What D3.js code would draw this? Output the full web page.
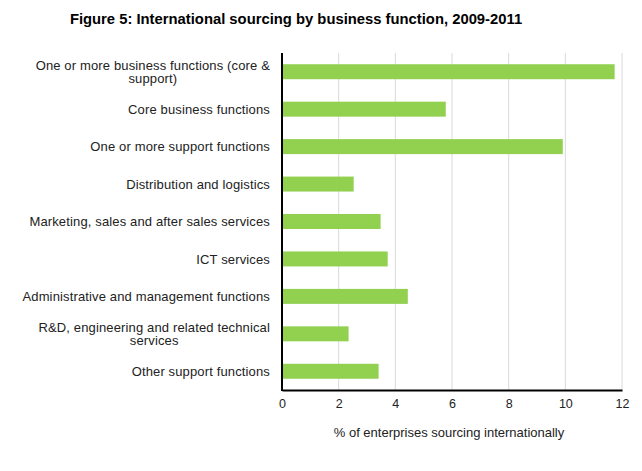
<!DOCTYPE html>
<html>
<head>
    <meta charset="utf-8">
    <title>Figure 5</title>
    <script src="https://d3js.org/d3.v7.min.js"></script>
    <style>
        body { margin: 0; background: #fff; }
        text { font-family: "Liberation Sans", Arial, sans-serif; }
    </style>
</head>
<body>
<svg width="642" height="471"></svg>
<script>
    // data
    var categories = [
        ["One or more business functions (core &", "support)"],
        ["Core business functions"],
        ["One or more support functions"],
        ["Distribution and logistics"],
        ["Marketing, sales and after sales services"],
        ["ICT services"],
        ["Administrative and management functions"],
        ["R&D, engineering and related technical", "services"],
        ["Other support functions"]
    ];
    var values = [11.74, 5.78, 9.91, 2.53, 3.48, 3.73, 4.44, 2.35, 3.41];
    var xTicks = [0, 2, 4, 6, 8, 10, 12];

    var svg = d3.select("svg");
    var marge = {top: 53, left: 282, right: 20, bottom: 81};
    var width = 642, height = 471;
    var plotW = width - marge.left - marge.right;   // 340
    var plotH = height - marge.top - marge.bottom;  // 337

    svg.append("text")
        .attr("x", 296)
        .attr("y", 24)
        .attr("text-anchor", "middle")
        .attr("font-size", "14.8px")
        .attr("font-weight", "bold")
        .attr("fill", "#000")
        .text("Figure 5: International sourcing by business function, 2009-2011");

    var g = svg.append("g")
        .attr("transform", "translate(" + marge.left + "," + marge.top + ")");

    var xScale = d3.scaleLinear().domain([0, 12]).range([0, plotW]);
    var yScale = d3.scaleBand()
        .domain(d3.range(values.length))
        .range([0, plotH])
        .paddingInner(0.6)
        .paddingOuter(0.3);

    // grid lines
    g.selectAll(".grid")
        .data(xTicks.slice(1))
        .enter()
        .append("line")
        .attr("x1", function (d) { return xScale(d); })
        .attr("x2", function (d) { return xScale(d); })
        .attr("y1", 0)
        .attr("y2", plotH)
        .attr("stroke", "#d9d9d9")
        .attr("stroke-width", 1);

    // bars
    g.selectAll(".bar")
        .data(values)
        .enter()
        .append("rect")
        .attr("x", xScale(0))
        .attr("y", function (d, i) { return yScale(i); })
        .attr("width", function (d) { return xScale(d) - xScale(0); })
        .attr("height", yScale.bandwidth())
        .attr("fill", "#92d050");

    // x axis
    var xAxis = d3.axisBottom(xScale).tickValues(xTicks).tickSize(0).tickPadding(9);
    var ax = g.append("g")
        .attr("transform", "translate(0," + plotH + ")")
        .call(xAxis);
    ax.select(".domain").attr("stroke", "#000").attr("stroke-width", 2);
    ax.selectAll("text")
        .attr("font-size", "12.5px")
        .attr("font-family", "Liberation Sans, Arial, sans-serif")
        .attr("fill", "#222");

    // y axis line
    g.append("line")
        .attr("x1", 0).attr("x2", 0)
        .attr("y1", 0).attr("y2", plotH + 1)
        .attr("stroke", "#000")
        .attr("stroke-width", 2);

    // category labels
    var labels = g.selectAll(".lab")
        .data(categories)
        .enter()
        .append("text")
        .attr("font-size", "13px")
        .attr("letter-spacing", "0.14px")
        .attr("fill", "#222")
        .attr("text-anchor", "end")
        .attr("transform", function (d, i) {
            var cy = yScale(i) + yScale.bandwidth() / 2;
            return "translate(-12," + (cy - (d.length - 1) * 6.5) + ")";
        });
    labels.each(function (d) {
        var t = d3.select(this);
        var first = t.append("tspan").attr("x", 0).attr("dy", "0.35em").text(d[0]);
        if (d.length > 1) {
            var w = first.node().getComputedTextLength();
            t.append("tspan")
                .attr("x", -w / 2)
                .attr("dy", 13.5)
                .attr("text-anchor", "middle")
                .text(d[1]);
        }
    });

    // axis title
    g.append("text")
        .attr("x", 167)
        .attr("y", plotH + 47)
        .attr("text-anchor", "middle")
        .attr("font-size", "13px")
        .attr("fill", "#222")
        .text("% of enterprises  sourcing internationally");
</script>
</body>
</html>
